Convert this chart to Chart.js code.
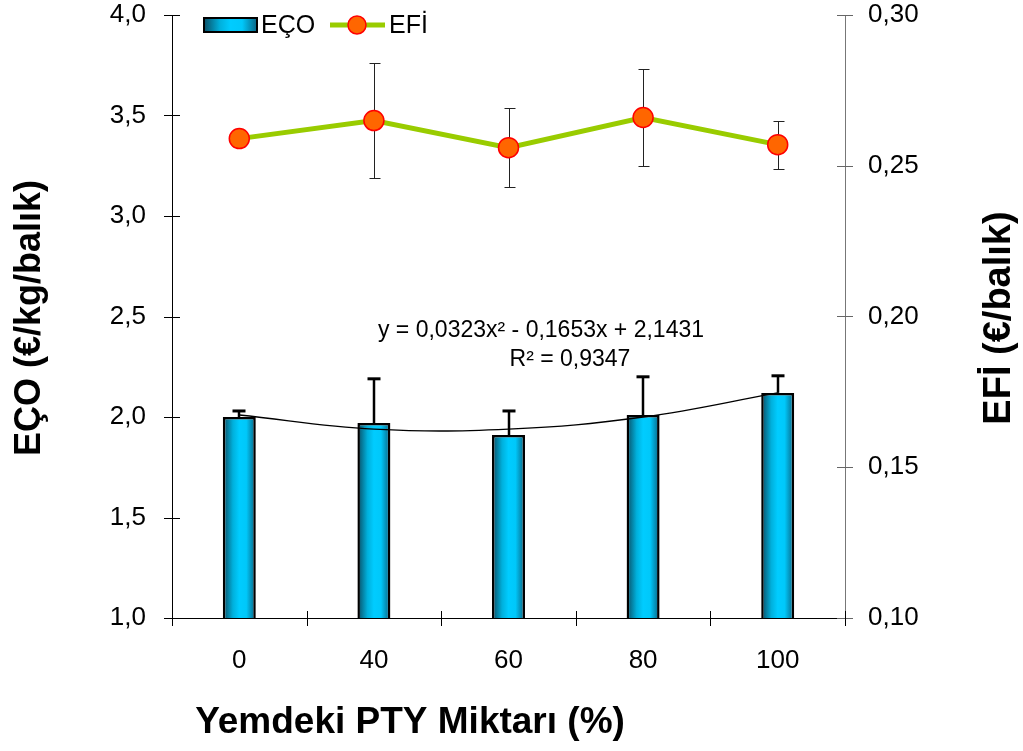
<!DOCTYPE html>
<html>
<head>
<meta charset="utf-8">
<script src="https://cdn.jsdelivr.net/npm/chart.js@4.4.1/dist/chart.umd.min.js"></script>
<style>
  html, body { margin: 0; padding: 0; background: #fff; }
  #wrap { width: 1023px; height: 751px; position: relative; }
</style>
</head>
<body>
<div id="wrap"><canvas id="myChart"></canvas></div>
<script>
// values
const categories = ["0", "40", "60", "80", "100"];
const ecoValues = [2.00, 1.97, 1.91, 2.01, 2.12];      // EÇO, left axis
const ecoErrors = [0.03, 0.22, 0.12, 0.19, 0.085];     // upper error only
const efiValues = [0.259, 0.265, 0.256, 0.266, 0.257]; // EFİ, right axis
const efiErrors = [0.002, 0.019, 0.013, 0.016, 0.008];
const trendValues = [2.01, 1.94, 1.94, 2.00, 2.12];    // polynomial trend line
const equationLines = ["y = 0,0323x² - 0,1653x + 2,1431", "R² = 0,9347"];
const xTitle = "Yemdeki PTY Miktarı (%)";
const yTitle = "EÇO (€/kg/balık)";
const y1Title = "EFİ (€/balık)";

const FONT = "'Liberation Sans', Arial, sans-serif";

function barGradient(ctx, cx, half) {
    if (!isFinite(cx)) return "#00ccff";
    const g = ctx.createLinearGradient(cx - half, 0, cx + half, 0);
    g.addColorStop(0, "#0a4f66");
    g.addColorStop(0.3, "#00b0dc");
    g.addColorStop(0.5, "#00ccff");
    g.addColorStop(0.72, "#00c8fa");
    g.addColorStop(1, "#0a6584");
    return g;
}

function line(ctx, x1, y1, x2, y2) {
    ctx.beginPath();
    ctx.moveTo(x1, y1);
    ctx.lineTo(x2, y2);
    ctx.stroke();
}

// no extra room for half tick labels at the axis ends
function fixWidth(w) {
    return (s) => { s.width = w; s.paddingTop = 0; s.paddingBottom = 0; };
}

const errorBars = {
    id: "errorBars",
    beforeDatasetDraw(chart, args) {
        // EFİ whiskers go under the markers
        if (args.index !== 0) return;
        const { ctx, scales } = chart;
        ctx.save();
        ctx.strokeStyle = "#222";
        ctx.lineWidth = 1;
        efiValues.forEach((v, i) => {
            const x = Math.round(scales.x.getPixelForValue(i)) + 0.5;
            const top = Math.round(scales.y1.getPixelForValue(v + efiErrors[i])) + 0.5;
            const bot = Math.round(scales.y1.getPixelForValue(v - efiErrors[i])) + 0.5;
            line(ctx, x, top, x, bot);
            line(ctx, x - 5, top, x + 6, top);
            line(ctx, x - 5, bot, x + 6, bot);
        });
        ctx.restore();
    },
    afterDatasetDraw(chart, args) {
        if (args.index !== 2) return;
        const { ctx, scales } = chart;
        ctx.save();
        ctx.strokeStyle = "#000";
        ecoValues.forEach((v, i) => {
            const x = Math.round(scales.x.getPixelForValue(i));
            const top = scales.y.getPixelForValue(v + ecoErrors[i]);
            const base = scales.y.getPixelForValue(v);
            ctx.lineWidth = 2.5;
            line(ctx, x, top, x, base);
            ctx.lineWidth = 3;
            line(ctx, x - 6.5, top, x + 6.5, top);
        });
        ctx.restore();
    }
};

const decorations = {
    id: "decorations",
    afterDraw(chart) {
        const { ctx, chartArea: a, scales } = chart;
        ctx.save();

        // crossing tick marks like the original
        ctx.lineWidth = 1;
        ctx.strokeStyle = "#000";
        scales.y.ticks.forEach(t => {
            const y = Math.round(scales.y.getPixelForValue(t.value)) + 0.5;
            line(ctx, a.left - 8, y, a.left + 8, y);
        });
        ctx.strokeStyle = "#666";
        scales.y1.ticks.forEach(t => {
            const y = Math.round(scales.y1.getPixelForValue(t.value)) + 0.5;
            line(ctx, a.right - 8, y, a.right + 8, y);
        });
        ctx.strokeStyle = "#000";
        const step = (a.right - a.left) / categories.length;
        for (let i = 0; i <= categories.length; i++) {
            const x = Math.round(a.left + i * step) + 0.5;
            line(ctx, x, a.bottom - 7, x, a.bottom + 8);
        }
        line(ctx, a.left - 8, a.bottom + 0.5, a.left, a.bottom + 0.5);

        // axis titles
        ctx.fillStyle = "#000";
        ctx.textAlign = "center";
        ctx.textBaseline = "middle";
        ctx.font = "bold 37px " + FONT;
        ctx.fillText(xTitle, 410, 723);

        ctx.save();
        ctx.translate(30, 318);
        ctx.rotate(-Math.PI / 2);
        ctx.font = "bold 36px " + FONT;
        ctx.fillText(yTitle, 0, 0);
        ctx.restore();

        ctx.save();
        ctx.translate(1000, 318);
        ctx.rotate(-Math.PI / 2);
        ctx.font = "bold 38px " + FONT;
        ctx.fillText(y1Title, 0, 0);
        ctx.restore();

        // trend equation
        ctx.font = "23px " + FONT;
        ctx.fillText(equationLines[0], 541, 331);
        ctx.fillText(equationLines[1], 570, 360);

        // legend
        ctx.fillStyle = barGradient(ctx, 230.5, 26.5);
        ctx.fillRect(204, 18, 53, 14);
        ctx.lineWidth = 2;
        ctx.strokeStyle = "#000";
        ctx.strokeRect(204, 18, 53, 14);
        ctx.fillStyle = "#000";
        ctx.textAlign = "left";
        ctx.font = "25px " + FONT;
        ctx.fillText("EÇO", 261, 26);

        ctx.strokeStyle = "#99cc00";
        ctx.lineWidth = 5;
        line(ctx, 330, 25, 385, 25);
        ctx.beginPath();
        ctx.arc(357, 25, 9, 0, Math.PI * 2);
        ctx.fillStyle = "#ff6600";
        ctx.fill();
        ctx.lineWidth = 1.5;
        ctx.strokeStyle = "#ff0000";
        ctx.stroke();
        ctx.fillStyle = "#000";
        ctx.fillText("EFİ", 389, 26);

        ctx.restore();
    }
};

const ctx = document.getElementById("myChart").getContext("2d");

new Chart(ctx, {
    type: "bar",
    data: {
        labels: categories,
        datasets: [
            {
                type: "line",
                label: "EFİ",
                data: efiValues,
                yAxisID: "y1",
                order: 0,
                borderColor: "#99cc00",
                borderWidth: 5,
                pointRadius: 10,
                pointBackgroundColor: "#ff6600",
                pointBorderColor: "#ff0000",
                pointBorderWidth: 1.5,
                tension: 0
            },
            {
                type: "line",
                label: "trend",
                data: trendValues,
                yAxisID: "y",
                order: 1,
                borderColor: "#000",
                borderWidth: 1.3,
                pointRadius: 0,
                tension: 0.4
            },
            {
                label: "EÇO",
                data: ecoValues,
                yAxisID: "y",
                order: 2,
                backgroundColor: (c) => {
                    const xs = c.chart.scales.x;
                    if (!xs || c.dataIndex === undefined) return "#00ccff";
                    return barGradient(c.chart.ctx, xs.getPixelForValue(c.dataIndex), 16);
                },
                borderColor: "#000",
                borderWidth: 2.5,
                barPercentage: 0.245,
                categoryPercentage: 1
            }
        ]
    },
    options: {
        responsive: true,
        maintainAspectRatio: false,
        animation: false,
        layout: { padding: { top: 15, left: 0, right: 0, bottom: 0 } },
        plugins: {
            legend: { display: false },
            tooltip: { enabled: false }
        },
        scales: {
            x: {
                offset: true,
                grid: { display: false, drawTicks: false },
                border: { color: "#000", width: 1 },
                ticks: { color: "#000", font: { family: FONT, size: 26 }, padding: 27 },
                afterFit: (s) => { s.height = 133; s.paddingLeft = 0; s.paddingRight = 0; }
            },
            y: {
                position: "left",
                min: 1,
                max: 4,
                grid: { display: false, drawTicks: false },
                border: { color: "#000", width: 1 },
                ticks: {
                    stepSize: 0.5,
                    color: "#000",
                    font: { family: FONT, size: 26 },
                    padding: 26,
                    callback: (v) => v.toFixed(1).replace(".", ",")
                },
                afterFit: fixWidth(172)
            },
            y1: {
                position: "right",
                min: 0.10,
                max: 0.30,
                grid: { display: false, drawTicks: false },
                border: { color: "#777", width: 1 },
                ticks: {
                    stepSize: 0.05,
                    color: "#000",
                    font: { family: FONT, size: 26 },
                    padding: 23,
                    callback: (v) => v.toFixed(2).replace(".", ",")
                },
                afterFit: fixWidth(178)
            }
        }
    },
    plugins: [errorBars, decorations]
});
</script>
</body>
</html>
